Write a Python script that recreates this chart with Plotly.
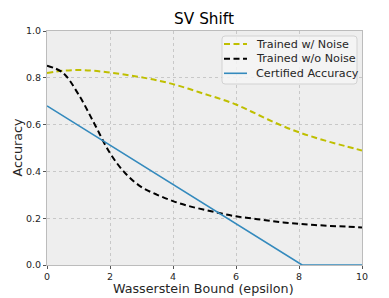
import plotly.graph_objects as go

x_noise = [0, 0.5, 1, 1.5, 2, 2.5, 3, 3.5, 4, 4.5, 5, 5.5, 6, 6.5, 7, 7.5, 8, 8.5, 9, 9.5, 10]
acc_noise = [0.82, 0.83, 0.833, 0.83, 0.822, 0.813, 0.802, 0.789, 0.773, 0.753, 0.731, 0.71, 0.686, 0.655, 0.623, 0.593, 0.567, 0.545, 0.525, 0.507, 0.489]

x_clean = [0, 0.5, 1, 1.5, 2, 2.5, 3, 3.5, 4, 4.5, 5, 5.5, 6, 6.5, 7, 7.5, 8, 8.5, 9, 9.5, 10]
acc_clean = [0.852, 0.822, 0.729, 0.605, 0.478, 0.39, 0.333, 0.3, 0.273, 0.252, 0.236, 0.221, 0.208, 0.199, 0.19, 0.182, 0.176, 0.171, 0.167, 0.164, 0.16]

x_cert = [0, 8.1, 10]
acc_cert = [0.68, 0.0, 0.0]

series_names = ["Trained w/ Noise", "Trained w/o Noise", "Certified Accuracy"]
series_colors = ["#bfbf00", "black", "#348ABD"]
series_dash = ["6px,3.5px", "6px,3.5px", "solid"]
series_width = [2, 2, 1.6]

W, H = 389, 298
OFF = 8  # page body offset
PL, PR, PT, PB = 47, 362, 31, 265  # desired visible plot area
L, R, T, B = PL - OFF, W - (PR - OFF), PT - OFF, H - (PB - OFF)
PW, PH = PR - PL, PB - PT

def px(vx):
    return (vx - PL) / PW

def py(vy):
    return (PB - vy) / PH

fig = go.Figure()
for xs, ys, nm, c, d, w in zip([x_noise, x_clean, x_cert], [acc_noise, acc_clean, acc_cert],
                               series_names, series_colors, series_dash, series_width):
    fig.add_trace(go.Scatter(x=xs, y=ys, mode="lines", name=nm, showlegend=False,
                             line=dict(color=c, width=w, dash=d),
                             line_shape="spline" if nm != "Certified Accuracy" else "linear"))

font_family = "DejaVu Sans"
fs_tick = 9.5

# custom legend (tight row spacing like the reference)
bx0, bx1, by0, by1 = px(222), px(357), py(84), py(36)
rx, ry = 3 / PW, 3 / PH
path = (f"M {bx0+rx},{by0} L {bx1-rx},{by0} Q {bx1},{by0} {bx1},{by0+ry} "
        f"L {bx1},{by1-ry} Q {bx1},{by1} {bx1-rx},{by1} L {bx0+rx},{by1} Q {bx0},{by1} {bx0},{by1-ry} "
        f"L {bx0},{by0+ry} Q {bx0},{by0} {bx0+rx},{by0} Z")
shapes = [dict(type="path", path=path, xref="paper", yref="paper",
               fillcolor="rgba(244,244,244,0.85)", line=dict(color="#d2d2d2", width=1), layer="above")]
annotations = []
row_y = [44, 58.7, 73.3]
for nm, c, d, w, vy in zip(series_names, series_colors, series_dash, series_width, row_y):
    shapes.append(dict(type="line", xref="paper", yref="paper", x0=px(224), x1=px(247), y0=py(vy), y1=py(vy),
                       line=dict(color=c, width=w, dash=d), layer="above"))
    annotations.append(dict(text=nm, xref="paper", yref="paper", x=px(254), y=py(vy), xanchor="left",
                            yanchor="middle", showarrow=False, font=dict(size=11.2, color="#262626")))

annotations.append(dict(text="Wasserstein Bound (epsilon)", xref="paper", yref="paper", x=px(203.5), y=py(288.3),
                        xanchor="center", yanchor="middle", showarrow=False, font=dict(size=12.7, color="#262626")))
annotations.append(dict(text="Accuracy", xref="paper", yref="paper", x=px(16.5), y=py(148), textangle=-90,
                        xanchor="center", yanchor="middle", showarrow=False, font=dict(size=12.7, color="#262626")))

fig.update_layout(
    width=W, height=H,
    margin=dict(l=L, r=R, t=T, b=B),
    paper_bgcolor="white", plot_bgcolor="#eeeeee",
    font=dict(family=font_family, color="#262626", size=fs_tick),
    title=dict(text="SV Shift", x=(204 - OFF) / W, xanchor="center", y=1 - (19 - OFF) / H, yanchor="middle",
               font=dict(size=15.3, color="black")),
    showlegend=False,
    shapes=shapes,
    annotations=annotations,
)
fig.update_xaxes(range=[0, 10], dtick=2, tick0=0, showgrid=True, gridcolor="#c8c8c8", griddash="dot", gridwidth=0.7,
                 showline=True, linecolor="#bcbcbc", linewidth=1, mirror=True, zeroline=False,
                 ticks="outside", ticklen=3, tickcolor="#555555", automargin=False,
                 tickfont=dict(size=fs_tick, color="#262626"))
fig.update_yaxes(range=[0, 1], dtick=0.2, tick0=0, tickformat=".1f", showgrid=True, gridcolor="#c8c8c8", griddash="dot", gridwidth=0.7,
                 showline=True, linecolor="#bcbcbc", linewidth=1, mirror=True, zeroline=False,
                 ticks="outside", ticklen=3, tickcolor="#555555", automargin=False,
                 tickfont=dict(size=fs_tick, color="#262626"))

fig.write_html("out.html")
